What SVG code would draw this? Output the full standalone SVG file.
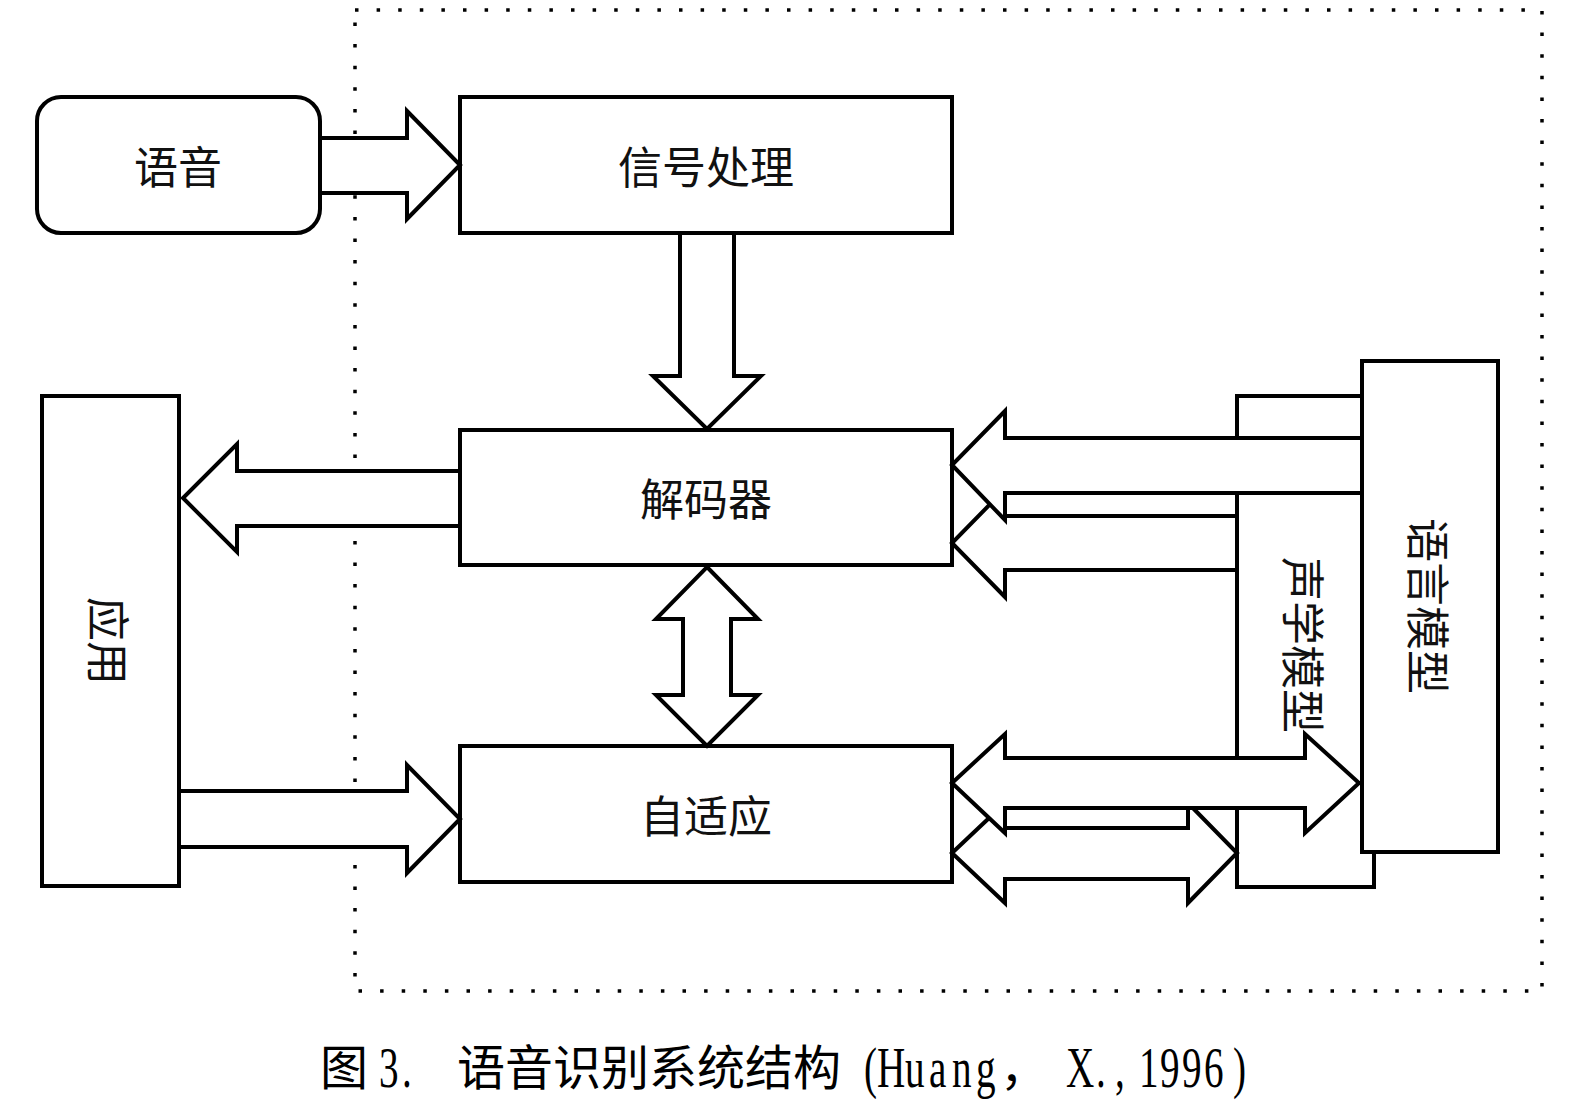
<svg xmlns="http://www.w3.org/2000/svg" width="1570" height="1112" viewBox="0 0 1570 1112">
<style>
.box{fill:#fff;stroke:#000;stroke-width:4}
.arr{fill:#fff;stroke:#000;stroke-width:4;stroke-linejoin:miter;stroke-miterlimit:10}
.lbl{font-family:"Noto Sans CJK SC","Noto Sans",sans-serif;font-size:44px;fill:#111;text-anchor:middle;dominant-baseline:central}
.cap{font-family:"Noto Sans CJK SC","Noto Sans",sans-serif;font-size:48px;fill:#000}
.lat{font-family:"Liberation Serif",serif;font-size:56px;fill:#000}
</style>
<rect x="355" y="10" width="1187" height="981" fill="none" stroke="#000" stroke-width="3.5" stroke-dasharray="3.5 18.1"/>

<g id="node-speech">
<rect class="box" x="37" y="97" width="283" height="136" rx="24" ry="24"/>
<text class="lbl" x="178" y="165">语音</text>
</g>
<g id="node-signal">
<rect class="box" x="460" y="97" width="492" height="136"/>
<text class="lbl" x="706" y="165">信号处理</text>
</g>
<g id="node-decoder">
<rect class="box" x="460" y="430" width="492" height="135"/>
<text class="lbl" x="706" y="497">解码器</text>
</g>
<g id="node-adapt">
<rect class="box" x="460" y="746" width="492" height="136"/>
<text class="lbl" x="706" y="814">自适应</text>
</g>
<g id="node-app">
<rect class="box" x="42" y="396" width="137" height="490"/>
<text class="lbl" transform="translate(110,641) rotate(90)" x="0" y="0">应用</text>
</g>
<g id="node-acoustic">
<rect class="box" x="1237" y="396" width="137" height="491"/>
<text class="lbl" transform="translate(1305,645) rotate(90)" x="0" y="0">声学模型</text>
</g>

<g id="connectors">
<polygon class="arr" points="320,138 407,138 407,111 460,165 407,219 407,193 320,193"/>
<polygon class="arr" points="680,233 734,233 734,376 761,376 707,429 653,376 680,376"/>
<polygon class="arr" points="460,471 237,471 237,444 183,498 237,552 237,526 460,526"/>
<polygon class="arr" points="179,791 407,791 407,765 460,819 407,873 407,847 179,847"/>
<polygon class="arr" points="707,567 758,619 731,619 731,695 758,695 707,746 656,695 683,695 683,619 656,619"/>
<polygon class="arr" points="1237,516 1005,516 1005,489 952,543 1005,597 1005,570 1237,570"/>
<polygon class="arr" points="1362,438 1005,438 1005,411 952,465 1005,520 1005,493 1362,493"/>
<polygon class="arr" points="952,853 1005,803 1005,828 1188,828 1188,803 1237,853 1188,903 1188,879 1005,879 1005,903"/>
<polygon class="arr" points="952,783 1005,734 1005,758 1305,758 1305,734 1359,783 1305,833 1305,808 1005,808 1005,833"/>
</g>

<g id="node-lm">
<rect class="box" x="1362" y="361" width="136" height="491"/>
<text class="lbl" transform="translate(1430,606) rotate(90)" x="0" y="0">语言模型</text>
</g>

<g id="caption">
<text class="cap" x="320" y="1085">图</text>
<text class="lat" transform="scale(0.7,1)" x="541.4 574.3" y="1087">3.</text>
<text class="cap" x="457" y="1085" textLength="384" lengthAdjust="spacingAndGlyphs">语音识别系统结构</text>
<text class="lat" transform="scale(0.7,1)" x="1234.3 1252.9 1292.9 1327.1 1360 1394.3" y="1087">(Huang</text>
<text class="cap" x="1000" y="1085">，</text>
<text class="lat" transform="scale(0.7,1)" x="1522.9 1565.7 1592.9 1627.1 1657.1 1688.6 1720 1761.4" y="1087">X.,1996)</text>
</g>
</svg>
